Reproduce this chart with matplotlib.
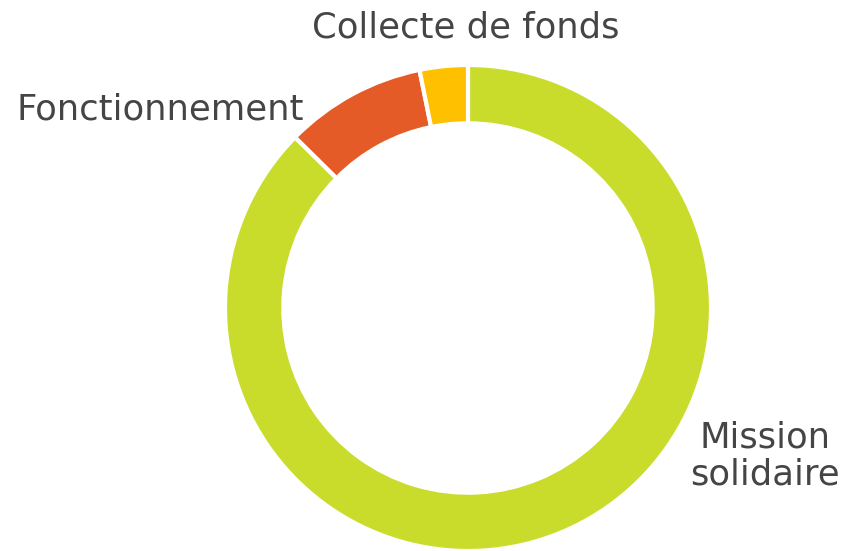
import matplotlib.pyplot as plt

labels = ['Mission solidaire', 'Fonctionnement', 'Collecte de fonds']
shares = [87.4, 9.4, 3.2]
colors = ['#C9DC2B', '#E55B27', '#FFC000']

W, H = 842, 551
cx, cy, r = 468, 308, 243


def to_data(px, py):
    # pixel position -> data coordinates (radius 1)
    return (px - cx) / r, (cy - py) / r


fig = plt.figure(figsize=(W / 100, H / 100), dpi=100)
ax = fig.add_axes([0, 0, 1, 1])
ax.pie(shares, colors=colors, startangle=90, counterclock=False, radius=1,
       wedgeprops=dict(width=0.24, edgecolor='white', linewidth=3))
ax.set_xlim(-cx / r, (W - cx) / r)
ax.set_ylim(-(H - cy) / r, cy / r)
ax.set_aspect('auto')
ax.axis('off')

txt = dict(fontsize=25.5, color='#454545', family='DejaVu Sans', ha='center', va='center',
           linespacing=1.1)
ax.text(*to_data(466, 28), labels[2], **txt)
ax.text(*to_data(160, 110), labels[1], **txt)
ax.text(*to_data(765, 456), 'Mission\nsolidaire', **txt)

fig.savefig('out.png', dpi=100)
